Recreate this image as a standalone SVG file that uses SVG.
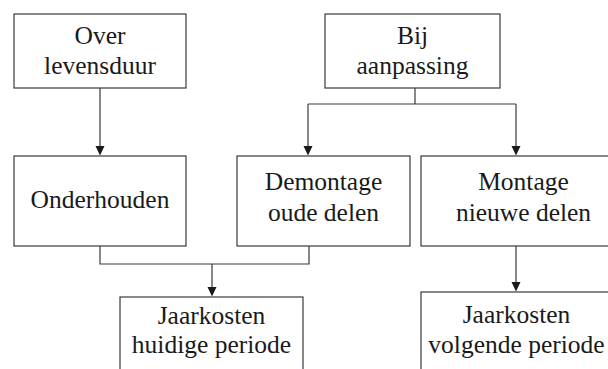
<svg xmlns="http://www.w3.org/2000/svg" width="608" height="369" viewBox="0 0 608 369">
  <style>
    .box { fill: #ffffff; stroke: #3a3a3a; stroke-width: 1.2; }
    .lbl { font-family: "Liberation Serif", "Times New Roman", serif; font-size: 25.5px; fill: #1a1a1a; text-anchor: middle; }
    .wire { fill: none; stroke: #3a3a3a; stroke-width: 1.2; }
    .head { fill: #1a1a1a; }
  </style>
  <defs>
    <!-- downward arrowhead, tip at (0,0) -->
    <path id="ah" d="M-4.5,-9.5 L4.5,-9.5 L0,0 Z"/>
  </defs>
  <rect width="608" height="369" fill="#ffffff"/>

  <g id="connectors">
    <!-- lifetime branch -->
    <path class="wire" d="M100,88 V147"/>
    <use href="#ah" class="head" x="100" y="155.5"/>
    <!-- adaptation branch split -->
    <path class="wire" d="M415,88 V104 M308,104 H516 M308,104 V147 M516,104 V147"/>
    <use href="#ah" class="head" x="308" y="155.5"/>
    <use href="#ah" class="head" x="516" y="155.5"/>
    <!-- merge into current period costs -->
    <path class="wire" d="M100,246 V264 H309 V246 M212,264 V288"/>
    <use href="#ah" class="head" x="212" y="296.5"/>
    <!-- assembly to next period costs -->
    <path class="wire" d="M516,246 V283"/>
    <use href="#ah" class="head" x="516" y="291.5"/>
  </g>

  <g id="node-over-levensduur">
    <rect class="box" x="14" y="14" width="172" height="74"/>
    <text class="lbl" x="100" y="44">Over</text>
    <text class="lbl" x="100" y="74">levensduur</text>
  </g>

  <g id="node-bij-aanpassing">
    <rect class="box" x="325" y="14" width="175" height="74"/>
    <text class="lbl" x="412.5" y="44">Bij</text>
    <text class="lbl" x="412.5" y="74">aanpassing</text>
  </g>

  <g id="node-onderhouden">
    <rect class="box" x="14" y="156" width="172" height="90"/>
    <text class="lbl" x="100" y="208">Onderhouden</text>
  </g>

  <g id="node-demontage">
    <rect class="box" x="237" y="156" width="173" height="90"/>
    <text class="lbl" x="323.5" y="190">Demontage</text>
    <text class="lbl" x="323.5" y="221">oude delen</text>
  </g>

  <g id="node-montage">
    <rect class="box" x="421" y="156" width="205" height="90"/>
    <text class="lbl" x="523.5" y="190">Montage</text>
    <text class="lbl" x="523.5" y="221">nieuwe delen</text>
  </g>

  <g id="node-jaarkosten-huidig">
    <rect class="box" x="120" y="297" width="183" height="80"/>
    <text class="lbl" x="211.5" y="324">Jaarkosten</text>
    <text class="lbl" x="211.5" y="353">huidige periode</text>
  </g>

  <g id="node-jaarkosten-volgend">
    <rect class="box" x="421" y="292" width="191" height="85"/>
    <text class="lbl" x="516.5" y="323">Jaarkosten</text>
    <text class="lbl" x="516.5" y="353">volgende periode</text>
  </g>
</svg>
